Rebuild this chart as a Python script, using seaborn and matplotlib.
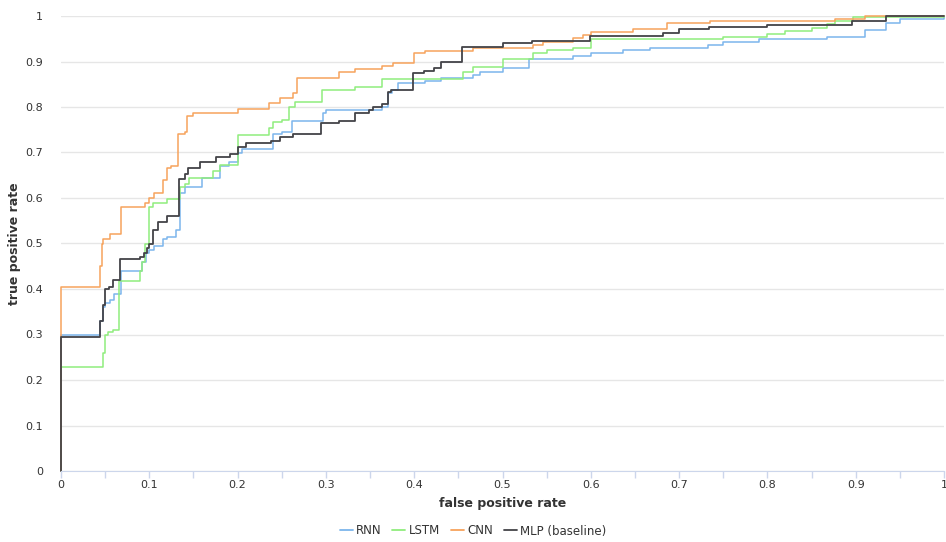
import pandas as pd
import matplotlib
matplotlib.use("Agg")
import matplotlib.pyplot as plt
from matplotlib.ticker import MultipleLocator, FuncFormatter
from matplotlib.lines import Line2D
import seaborn as sns


# ROC points (fpr where the step happens, tpr after the step)
rnn_fpr = [0, 0, 0.044, 0.047, 0.050, 0.056, 0.060, 0.068, 0.092, 0.096, 0.100, 0.105, 0.115, 0.120, 0.130,
           0.135, 0.140, 0.160, 0.180, 0.190, 0.200, 0.205, 0.240, 0.250, 0.262, 0.297, 0.300,
           0.363, 0.370, 0.375, 0.382, 0.412, 0.430, 0.467, 0.475, 0.500, 0.530, 0.580, 0.600,
           0.637, 0.667, 0.733, 0.750, 0.790, 0.867, 0.910, 0.934, 0.950, 1.0]
rnn_tpr = [0, 0.30, 0.33, 0.36, 0.37, 0.375, 0.39, 0.44, 0.46, 0.48, 0.485, 0.495, 0.51, 0.515, 0.53,
           0.61, 0.625, 0.645, 0.67, 0.68, 0.70, 0.707, 0.74, 0.745, 0.77, 0.787, 0.793,
           0.80, 0.83, 0.837, 0.852, 0.857, 0.864, 0.87, 0.877, 0.885, 0.905, 0.912, 0.918,
           0.925, 0.93, 0.936, 0.942, 0.949, 0.954, 0.969, 0.985, 0.993, 0.998]

lstm_fpr = [0, 0, 0.048, 0.050, 0.053, 0.059, 0.066, 0.090, 0.092, 0.095, 0.100, 0.104, 0.120,
            0.135, 0.140, 0.145, 0.172, 0.180, 0.200, 0.235, 0.240, 0.250, 0.258, 0.265,
            0.296, 0.333, 0.363, 0.455, 0.467, 0.500, 0.535, 0.550, 0.580, 0.600, 0.750, 0.800,
            0.820, 0.850, 0.868, 0.877, 0.897, 1.0]
lstm_tpr = [0, 0.228, 0.26, 0.30, 0.305, 0.31, 0.418, 0.44, 0.46, 0.50, 0.58, 0.59, 0.597,
            0.625, 0.63, 0.643, 0.66, 0.672, 0.738, 0.753, 0.767, 0.771, 0.80, 0.81,
            0.837, 0.845, 0.861, 0.877, 0.888, 0.905, 0.918, 0.925, 0.93, 0.949, 0.953, 0.96,
            0.967, 0.973, 0.982, 0.989, 0.998, 1.0]

cnn_fpr = [0, 0, 0.044, 0.046, 0.048, 0.055, 0.068, 0.095, 0.100, 0.105, 0.115, 0.120, 0.125,
           0.133, 0.140, 0.143, 0.150, 0.200, 0.235, 0.248, 0.263, 0.267,
           0.315, 0.333, 0.363, 0.376, 0.400, 0.412, 0.467, 0.535, 0.546, 0.580, 0.591, 0.600,
           0.648, 0.686, 0.735, 0.877, 0.910, 1.0]
cnn_tpr = [0, 0.405, 0.45, 0.50, 0.51, 0.52, 0.58, 0.59, 0.60, 0.61, 0.64, 0.665, 0.67,
           0.74, 0.745, 0.78, 0.787, 0.795, 0.809, 0.82, 0.83, 0.864,
           0.877, 0.883, 0.89, 0.896, 0.918, 0.923, 0.93, 0.936, 0.943, 0.952, 0.958, 0.965,
           0.971, 0.985, 0.989, 0.993, 1.0, 1.0]

mlp_fpr = [0, 0, 0.044, 0.047, 0.050, 0.054, 0.059, 0.067, 0.090, 0.094, 0.097, 0.100, 0.104, 0.110, 0.120,
           0.134, 0.140, 0.144, 0.157, 0.176, 0.191, 0.200, 0.210, 0.238, 0.248, 0.263,
           0.294, 0.315, 0.333, 0.349, 0.353, 0.363, 0.370, 0.374, 0.399, 0.411, 0.422, 0.430,
           0.454, 0.500, 0.533, 0.599, 0.682, 0.700, 0.734, 0.800, 0.896, 0.934, 1.0]
mlp_tpr = [0, 0.295, 0.33, 0.365, 0.40, 0.405, 0.42, 0.465, 0.47, 0.48, 0.49, 0.50, 0.53, 0.548, 0.56,
           0.642, 0.653, 0.665, 0.68, 0.69, 0.697, 0.712, 0.72, 0.726, 0.734, 0.741,
           0.765, 0.77, 0.787, 0.793, 0.80, 0.807, 0.833, 0.837, 0.874, 0.879, 0.885, 0.90,
           0.932, 0.94, 0.945, 0.956, 0.963, 0.971, 0.976, 0.98, 0.989, 1.0, 1.0]

models = ["RNN", "LSTM", "CNN", "MLP (baseline)"]
colors = ["#7cb5ec", "#90ed7d", "#f7a35c", "#434348"]

frames = []
for name, fpr, tpr in zip(models,
                          [rnn_fpr, lstm_fpr, cnn_fpr, mlp_fpr],
                          [rnn_tpr, lstm_tpr, cnn_tpr, mlp_tpr]):
    frames.append(pd.DataFrame({"model": name, "fpr": fpr, "tpr": tpr}))
df = pd.concat(frames, ignore_index=True)

sns.set_style("white")
plt.rcParams['font.family'] = ['DejaVu Sans']

fig = plt.figure(figsize=(9.46, 5.42), dpi=100)
ax = fig.add_axes([61 / 946, 71 / 542, 883 / 946, 455 / 542])

sns.lineplot(data=df, x="fpr", y="tpr", hue="model", hue_order=models,
             palette=colors, estimator=None, sort=False, drawstyle="steps-post",
             linewidth=1.1, legend=False, ax=ax)
for line in ax.get_lines():
    line.set_clip_on(False)
ax.get_lines()[-1].set_linewidth(1.3)

ax.set_xlim(0, 1)
ax.set_ylim(0, 1)
ax.xaxis.set_major_locator(MultipleLocator(0.1))
ax.xaxis.set_minor_locator(MultipleLocator(0.05))
ax.yaxis.set_major_locator(MultipleLocator(0.1))
fmt = FuncFormatter(lambda v, p: "%g" % round(v, 2))
ax.xaxis.set_major_formatter(fmt)
ax.yaxis.set_major_formatter(fmt)

ax.grid(axis="y", color="#e6e6e6", linewidth=1)
ax.set_axisbelow(True)
for s in ["top", "right", "left"]:
    ax.spines[s].set_visible(False)
ax.spines["bottom"].set_color("#ccd6eb")

ax.tick_params(axis="x", which="both", direction="out", length=5, width=1,
               color="#ccd6eb", labelsize=8, labelcolor="#333333", pad=1.5, bottom=True)
ax.tick_params(axis="y", length=0, labelsize=8, labelcolor="#333333", pad=13)

ax.set_xlabel("false positive rate", fontsize=9, fontweight="bold", color="#333333", labelpad=5)
ax.set_ylabel("true positive rate", fontsize=9, fontweight="bold", color="#333333", labelpad=3)

handles = [Line2D([], [], color=c, linewidth=1.3) for c in colors]
fig.legend(handles, models, loc="center", bbox_to_anchor=(0.5, 1 - 531 / 542), ncol=4,
           frameon=False, fontsize=8.5, handlelength=1.1, handletextpad=0.3,
           columnspacing=0.9, labelcolor="#333333")

plt.savefig("out.png", dpi=100)
